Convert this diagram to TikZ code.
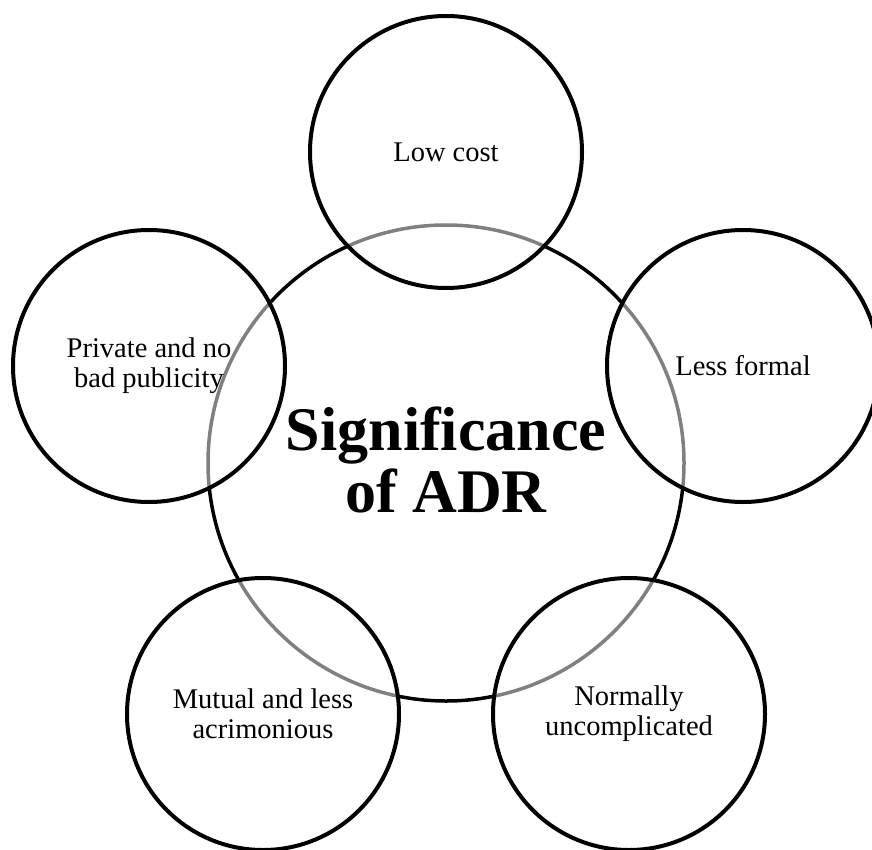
\documentclass[tikz,border=0pt]{standalone}
\usepackage{fontspec}
\setmainfont{Liberation Serif}
\begin{document}
\begin{tikzpicture}[x=1pt,y=-1pt,
  hub/.style={circle,draw=black,line width=3.5pt,minimum size=476pt,inner sep=0pt},
  petal/.style={circle,draw=black,line width=4pt,fill=white,fill opacity=0.5,text opacity=1,
    minimum size=272pt,inner sep=0pt,align=center,font=\fontsize{28.5}{30}\selectfont},
  hubtext/.style={font=\fontsize{62}{63}\selectfont\bfseries,inner sep=0pt,anchor=base}]
\useasboundingbox (0,0) rectangle (872,850);
\node[hub] (center) at (446,463) {};
\node[hubtext] (t1) at (446,450) {Significance};
\node[hubtext] (t2) at (446,512) {of ADR};
\node[petal] (top) at (446,152) {Low cost};
\node[petal] (right) at (743,366) {Less formal};
\node[petal] (left) at (149,366) {Private and no\\bad publicity};
\node[petal] (bl) at (263,714) {Mutual and less\\acrimonious};
\node[petal] (br) at (629,714) {Normally\\uncomplicated};
\end{tikzpicture}
\end{document}
